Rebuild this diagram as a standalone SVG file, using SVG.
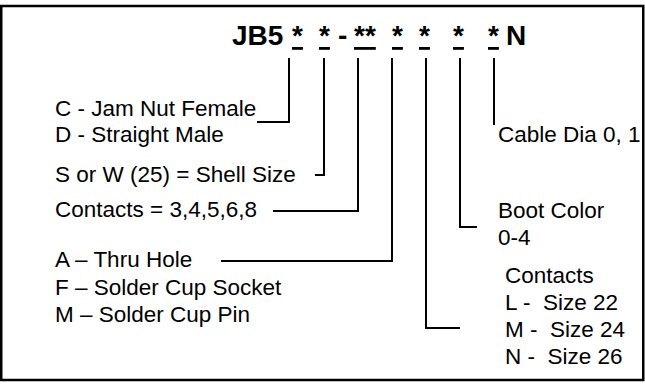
<svg xmlns="http://www.w3.org/2000/svg" width="645" height="385" viewBox="0 0 645 385">
<style>
.t{font-family:"Liberation Sans",Arial,sans-serif;font-size:22.5px;fill:#000;white-space:pre}
.h{font-family:"Liberation Sans",Arial,sans-serif;font-size:28px;font-weight:bold;fill:#000}
.u{text-decoration:underline}
.c{fill:none;stroke:#000;stroke-width:2}
</style>
<rect x="1.25" y="6" width="642" height="374" fill="#fff" stroke="#000" stroke-width="2.5"/>
<g id="title">
<text class="h" x="232" y="45">JB5</text>
<text class="h u" x="292" y="45">*</text>
<text class="h u" x="319" y="45">*</text>
<text class="h" x="338" y="45">-</text>
<text class="h u" x="354" y="45">**</text>
<text class="h u" x="392" y="45">*</text>
<text class="h u" x="419" y="45">*</text>
<text class="h u" x="453" y="45">*</text>
<text class="h u" x="488" y="45">*</text>
<text class="h" x="506" y="45">N</text>
</g>
<g id="connectors">
<polyline class="c" points="289,58 289,122 257,122"/>
<polyline class="c" points="324,58 324,175 315,175"/>
<polyline class="c" points="358,58 358,211 273,211"/>
<polyline class="c" points="392,58 392,261 221,261"/>
<polyline class="c" points="426,58 426,328 460,328"/>
<polyline class="c" points="460,58 460,227 477,227"/>
<polyline class="c" points="494,58 494,125"/>
</g>
<g id="mount">
<text class="t" x="55" y="116">C - Jam Nut Female</text>
<text class="t" x="55" y="142">D - Straight Male</text>
</g>
<g id="shell">
<text class="t" x="55" y="182">S or W (25) = Shell Size</text>
</g>
<g id="contacts-count">
<text class="t" x="55" y="217">Contacts = 3,4,5,6,8</text>
</g>
<g id="termination">
<text class="t" x="55" y="267">A – Thru Hole</text>
<text class="t" x="55" y="295">F – Solder Cup Socket</text>
<text class="t" x="55" y="322">M – Solder Cup Pin</text>
</g>
<g id="cable">
<text class="t" x="498" y="142">Cable Dia 0, 1</text>
</g>
<g id="boot">
<text class="t" x="498" y="218">Boot Color</text>
<text class="t" x="498" y="245">0-4</text>
</g>
<g id="contact-size">
<text class="t" x="505" y="283">Contacts</text>
<text class="t" x="505" y="310">L -  Size 22</text>
<text class="t" x="505" y="337">M -  Size 24</text>
<text class="t" x="505" y="364">N -  Size 26</text>
</g>
</svg>
